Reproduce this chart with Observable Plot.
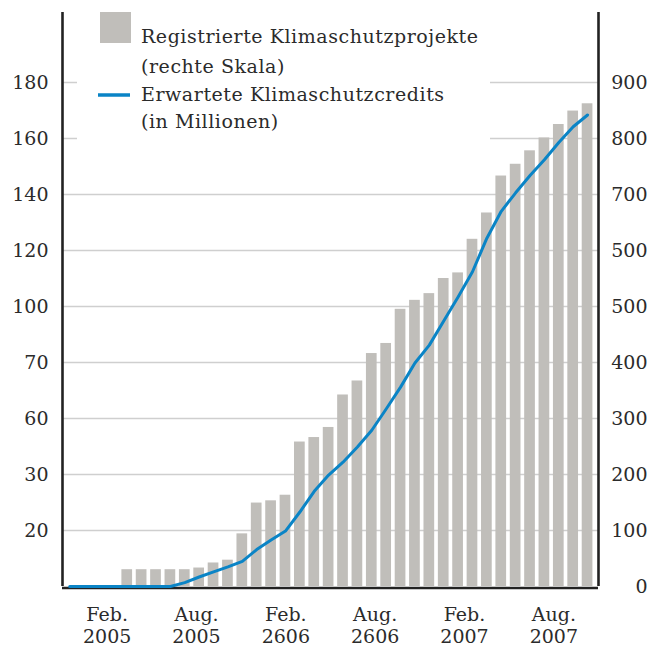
<!DOCTYPE html>
<html><head><meta charset="utf-8">
<script src="https://cdn.jsdelivr.net/npm/d3@7"></script>
<script src="https://cdn.jsdelivr.net/npm/@observablehq/plot@0.6"></script>
<style>body{margin:0;background:#fff;} svg{display:block;}</style>
</head><body><div id="chart"></div>
<script>
// Months (Dec 2004 .. Dec 2007)
const months = ["2004-12","2005-01","2005-02","2005-03","2005-04","2005-05","2005-06","2005-07","2005-08","2005-09","2005-10","2005-11","2005-12",
  "2006-01","2006-02","2006-03","2006-04","2006-05","2006-06","2006-07","2006-08","2006-09","2006-10","2006-11","2006-12",
  "2007-01","2007-02","2007-03","2007-04","2007-05","2007-06","2007-07","2007-08","2007-09","2007-10","2007-11","2007-12"];
// Registrierte Klimaschutzprojekte (rechte Skala)
const projects = [null,null,null,null,30,30,30,30,30,33,42,47,94,149,153,163,258,266,284,342,367,416,434,495,511,523,550,560,620,667,733,754,778,801,825,849,862];
// Erwartete Klimaschutzcredits, plotted on the shared chart scale
const credits = [0,0,0,0,0,0,0,0,7,17,26,35,45,66,83,99,133,170,199,222,249,279,317,356,399,431,474,517,562,622,670,703,734,762,793,821,842];
// Axis ticks
const tickValues = [0,100,200,300,400,500,600,700,800,900];
const leftTickLabels = ["","20","30","60","70","100","120","140","160","180"];
const rightTickLabels = ["0","100","200","300","400","500","500","700","800","900"];
const xTickLabels = ["Feb.\n2005","Aug.\n2005","Feb.\n2606","Aug.\n2606","Feb.\n2007","Aug.\n2007"];
const legendLabels = ["Registrierte Klimaschutzprojekte","(rechte Skala)","Erwartete Klimaschutzcredits","(in Millionen)"];

const data = months.map((m, i) => ({i, month: m, projects: projects[i], credits: credits[i]}));
const xDomain = [-0.5, 36.76];
const yDomain = [0, 1025];
const ticks = tickValues.map((v, k) => ({v, left: leftTickLabels[k], right: rightTickLabels[k]}));
const xSpan = xDomain[1] - xDomain[0];
const xTicks = xTickLabels.map((t, k) => ({x: xDomain[0] + (k + 0.5) * xSpan / xTickLabels.length, t}));

const FONT = "DejaVu Serif";
const TEXT = "#2b2b2b";
const BAR = "#c0beba";
const BLUE = "#0a84c6";

const plot = Plot.plot({
  width: 660, height: 646,
  marginLeft: 62, marginRight: 62, marginTop: 12, marginBottom: 60,
  x: {type: "linear", domain: xDomain, axis: null},
  y: {domain: yDomain, axis: null},
  style: {fontFamily: FONT, fontSize: "19px", color: TEXT, background: "#fff"},
  marks: [
    Plot.ruleY(tickValues.filter(v => v > 0), {stroke: "#cfcfcf", strokeWidth: 1.4}),
    Plot.rectY(data.filter(d => d.projects != null), {x1: d => d.i - 0.372, x2: d => d.i + 0.372, y: "projects", fill: BAR}),
    Plot.ruleY([0], {stroke: "#222", strokeWidth: 2.6, dy: 1.5, x1: xDomain[0], x2: xDomain[1]}),
    Plot.ruleX([xDomain[0]], {stroke: "#222", strokeWidth: 2.6, y1: 0, y2: yDomain[1]}),
    Plot.ruleX([xDomain[1]], {stroke: "#222", strokeWidth: 2.6, y1: 0, y2: yDomain[1]}),
    Plot.line(data, {x: "i", y: "credits", stroke: BLUE, strokeWidth: 3, strokeLinejoin: "round"}),
    Plot.text(ticks.filter(d => d.left), {x: xDomain[0], y: "v", text: "left", textAnchor: "end", dx: -14, fill: TEXT, fontSize: 19}),
    Plot.text(ticks, {x: xDomain[1], y: "v", text: "right", textAnchor: "end", dx: 49, fill: TEXT, fontSize: 19}),
    Plot.text(xTicks, {x: "x", y: 0, text: "t", lineAnchor: "top", dy: 18, lineHeight: 1.2, fill: TEXT, fontSize: 19})
  ]
});

// Legend, drawn over the top of the plot with a white backing
const svg = d3.select(plot);
const lg = svg.append("g").attr("font-family", FONT).attr("font-size", 19).attr("fill", TEXT).attr("text-anchor", "start");
lg.append("rect").attr("x", 77).attr("y", 13).attr("width", 413).attr("height", 130).attr("fill", "#fff");
lg.append("rect").attr("x", 100).attr("y", 12).attr("width", 31).attr("height", 31).attr("fill", BAR);
lg.append("line").attr("x1", 98).attr("x2", 130).attr("y1", 95).attr("y2", 95).attr("stroke", BLUE).attr("stroke-width", 3.5);
const baselines = [43, 73, 101, 128];
legendLabels.forEach((t, k) => lg.append("text").attr("x", 141).attr("y", baselines[k])
  .attr("text-anchor", "start").attr("letter-spacing", "0.55px").text(t));

document.getElementById("chart").appendChild(plot);
</script>
</body></html>
